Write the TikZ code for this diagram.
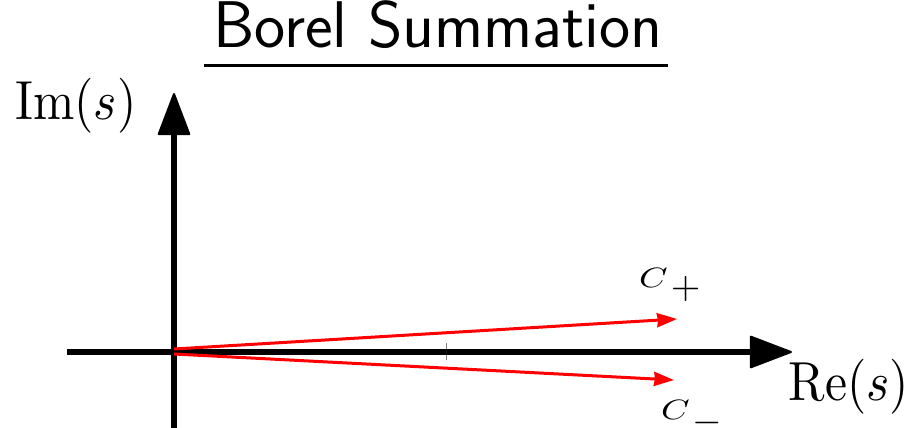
\documentclass[tikz,border=0pt]{standalone}
\usetikzlibrary{arrows.meta}
\begin{document}
\begin{tikzpicture}[x=1pt,y=-1pt,
  axis/.style={line width=6pt,-{Triangle[length=44pt,width=33pt,round,line width=2pt]}},
  ray/.style={red,line width=3pt,-{Stealth[length=20pt,width=14pt,inset=1pt]}},
  bigtext/.style={anchor=base,inner sep=0pt},
  clabel/.style={anchor=base west,inner sep=0pt}]
\useasboundingbox (0,0) rectangle (922,428);
% coordinates
\coordinate (O) at (174,352);
\coordinate (ytop) at (174,93);
\coordinate (ybot) at (174,432);
\coordinate (xl) at (67,352);
\coordinate (xr) at (792,352);
\coordinate (s1) at (174,349);
\coordinate (p1) at (677,319);
\coordinate (s2) at (174,354);
\coordinate (p2) at (674,380);
\coordinate (tk1) at (446,343);
\coordinate (tk2) at (446,360);
% tick
\draw[gray,line width=1pt] (tk1) -- (tk2);
% axes
\draw[axis] (ybot) -- (ytop);
\draw[axis] (xl) -- (xr);
% rays
\draw[ray] (s1) -- (p1);
\draw[ray] (s2) -- (p2);
% title
\node[anchor=base,inner sep=0pt,font=\fontsize{66}{76}\selectfont\sffamily] (title) at (438,48) {Borel Summation};
\draw[line width=3pt] ([xshift=-9pt,yshift=-18pt]title.base west) -- ([xshift=5pt,yshift=-18pt]title.base east);
% axis labels
\node[bigtext] (im) at (76,120) {\scalebox{4.95}[5.5]{$\mathrm{Im}(s)$}};
\node[bigtext] (re) at (849,400) {\scalebox{4.95}[5.5]{$\mathrm{Re}(s)$}};
% ray labels
\node[clabel] (cp) at (639,287) {\scalebox{3.64}[2.8]{$C$}\kern3pt\raisebox{-11pt}{\scalebox{3.8}{$+$}}};
\node[clabel] (cm) at (661,419) {\scalebox{3.64}[2.8]{$C$}\kern3pt\raisebox{-13pt}{\scalebox{3.8}{$-$}}};
\end{tikzpicture}
\end{document}
